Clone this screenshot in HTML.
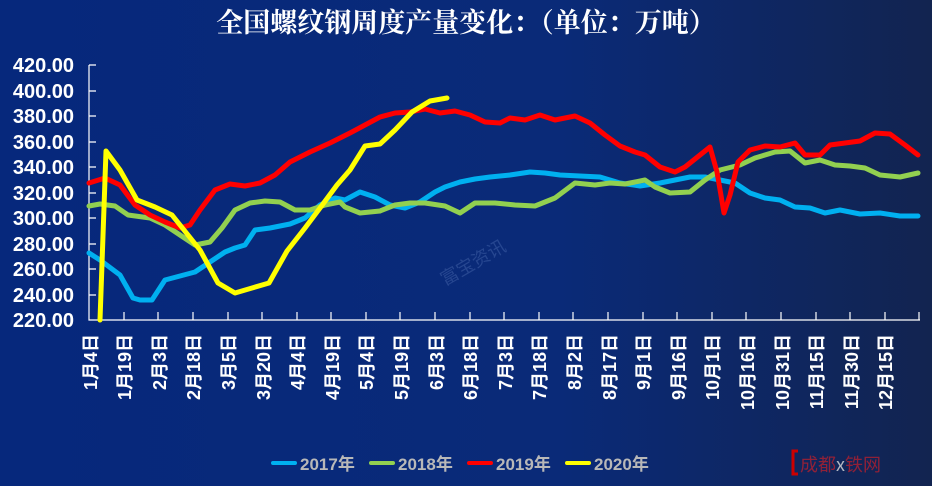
<!DOCTYPE html>
<html><head><meta charset="utf-8"><style>
html,body{margin:0;padding:0}
body{width:932px;height:486px;overflow:hidden;background:linear-gradient(90deg,#06287c 0%,#0a2a78 60%,#122450 100%);}
</style></head><body>
<svg width="932" height="486" xmlns="http://www.w3.org/2000/svg" style="position:absolute;left:0;top:0">
<text x="466" y="32" fill="#fff" font-size="27" font-weight="bold" text-anchor="middle" font-family="'Liberation Serif','Noto Serif CJK SC',serif">全国螺纹钢周度产量变化：（单位：万吨）</text>
<g font-family="'Liberation Sans',sans-serif" font-weight="bold" font-size="20" fill="#fff" text-anchor="end">
<text x="74" y="72">420.00</text><text x="74" y="98">400.00</text><text x="74" y="123">380.00</text><text x="74" y="149">360.00</text><text x="74" y="174">340.00</text><text x="74" y="200">320.00</text><text x="74" y="225">300.00</text><text x="74" y="251">280.00</text><text x="74" y="276">260.00</text><text x="74" y="302">240.00</text><text x="74" y="327">220.00</text>
</g>
<g stroke="#fff" stroke-width="1.2" fill="none">
<path d="M89 65V320H920"/>
<path d="M89 65h7M89 91h7M89 116h7M89 142h7M89 167h7M89 193h7M89 218h7M89 244h7M89 269h7M89 295h7"/>
<path d="M124 320v-8M158 320v-8M193 320v-8M228 320v-8M262 320v-8M297 320v-8M331 320v-8M366 320v-8M400 320v-8M435 320v-8M470 320v-8M504 320v-8M539 320v-8M573 320v-8M608 320v-8M643 320v-8M677 320v-8M712 320v-8M746 320v-8M781 320v-8M816 320v-8M850 320v-8M885 320v-8M919 320v-8"/>
</g>
<g font-family="'Liberation Sans','Noto Sans CJK SC',sans-serif" font-weight="bold" font-size="18" fill="#fff" text-anchor="end">
<text transform="translate(97,334) rotate(-90)">1月4日</text>
<text transform="translate(131,334) rotate(-90)">1月19日</text>
<text transform="translate(166,334) rotate(-90)">2月3日</text>
<text transform="translate(200,334) rotate(-90)">2月18日</text>
<text transform="translate(235,334) rotate(-90)">3月5日</text>
<text transform="translate(270,334) rotate(-90)">3月20日</text>
<text transform="translate(304,334) rotate(-90)">4月4日</text>
<text transform="translate(339,334) rotate(-90)">4月19日</text>
<text transform="translate(373,334) rotate(-90)">5月4日</text>
<text transform="translate(408,334) rotate(-90)">5月19日</text>
<text transform="translate(443,334) rotate(-90)">6月3日</text>
<text transform="translate(477,334) rotate(-90)">6月18日</text>
<text transform="translate(512,334) rotate(-90)">7月3日</text>
<text transform="translate(546,334) rotate(-90)">7月18日</text>
<text transform="translate(581,334) rotate(-90)">8月2日</text>
<text transform="translate(616,334) rotate(-90)">8月17日</text>
<text transform="translate(650,334) rotate(-90)">9月1日</text>
<text transform="translate(685,334) rotate(-90)">9月16日</text>
<text transform="translate(719,334) rotate(-90)">10月1日</text>
<text transform="translate(754,334) rotate(-90)">10月16日</text>
<text transform="translate(789,334) rotate(-90)">10月31日</text>
<text transform="translate(823,334) rotate(-90)">11月15日</text>
<text transform="translate(858,334) rotate(-90)">11月30日</text>
<text transform="translate(892,334) rotate(-90)">12月15日</text>
</g>
<text x="430" y="290" fill="#3a5aa0" opacity="0.6" font-size="18" font-family="'Noto Sans CJK SC',sans-serif" transform="rotate(-30 430 260)">富宝资讯</text>
<g fill="none" stroke-width="5" stroke-linejoin="round" stroke-linecap="round">
<polyline stroke="#00b0f0" points="89,253 100,260 120,275 133,298 140,300 152,300 165,280 180,276 195,272 210,262 225,252 235,248 245,245 255,230 270,228 290,224 305,218 320,205 335,198 345,200 360,192 375,197 390,205 405,208 420,202 435,192 445,187 460,182 475,179 490,177 510,175 530,172 545,173 560,175 580,176 600,177 620,183 640,186 660,183 675,180 690,177 705,177 720,180 735,183 750,193 765,198 780,200 795,207 810,208 825,213 840,210 850,212 860,214 880,213 900,216 918,216"/>
<polyline stroke="#92d050" points="89,206 100,204 115,206 128,215 150,218 165,225 180,235 195,245 210,242 222,228 235,210 250,203 265,201 280,202 295,210 310,210 325,205 340,202 345,207 360,213 380,211 395,205 410,203 425,203 445,206 460,213 475,203 495,203 515,205 535,206 555,198 575,183 595,185 610,183 625,184 645,180 655,187 670,193 690,192 705,180 720,170 740,165 755,158 775,152 790,151 805,163 820,160 835,165 850,166 865,168 880,175 900,177 918,173"/>
<polyline stroke="#ff0000" points="89,183 105,178 120,185 135,205 150,215 165,222 180,228 190,225 200,210 215,190 230,184 245,186 260,183 275,175 290,162 310,152 330,143 350,133 365,125 380,117 395,113 410,112 425,109 440,113 455,111 470,115 485,122 500,123 510,118 525,120 540,115 555,120 575,116 590,123 605,135 620,146 635,152 645,155 660,167 675,172 685,167 700,155 710,147 717,172 724,213 730,195 738,162 750,150 765,146 780,147 795,143 805,155 820,155 830,145 845,143 860,141 875,133 890,134 905,145 918,155"/>
<polyline stroke="#ffff00" points="100,320 106,151 120,170 137,200 155,207 172,215 200,250 218,283 235,293 252,288 269,283 287,251 305,228 320,208 337,185 350,170 365,146 380,144 395,130 412,112 430,101 447,98"/>
</g>
<g font-family="'Liberation Sans','Noto Sans CJK SC',sans-serif" font-weight="bold" font-size="17" fill="#b8b8b8">
<rect x="271" y="461" width="26" height="4" rx="2" fill="#00b0f0"/><text x="300" y="470">2017年</text>
<rect x="369" y="461" width="26" height="4" rx="2" fill="#92d050"/><text x="398" y="470">2018年</text>
<rect x="467" y="461" width="26" height="4" rx="2" fill="#ff0000"/><text x="496" y="470">2019年</text>
<rect x="565" y="461" width="26" height="4" rx="2" fill="#ffff00"/><text x="594" y="470">2020年</text>
</g>
<path d="M798 451h-5v23h5" stroke="#c00" stroke-width="3" fill="none"/>
<text x="800" y="471" fill="#b02030" font-size="18" font-family="'Noto Sans CJK SC',sans-serif" opacity="0.8">成都<tspan fill="#ddd">x</tspan>铁网</text>
</svg>
</body></html>
